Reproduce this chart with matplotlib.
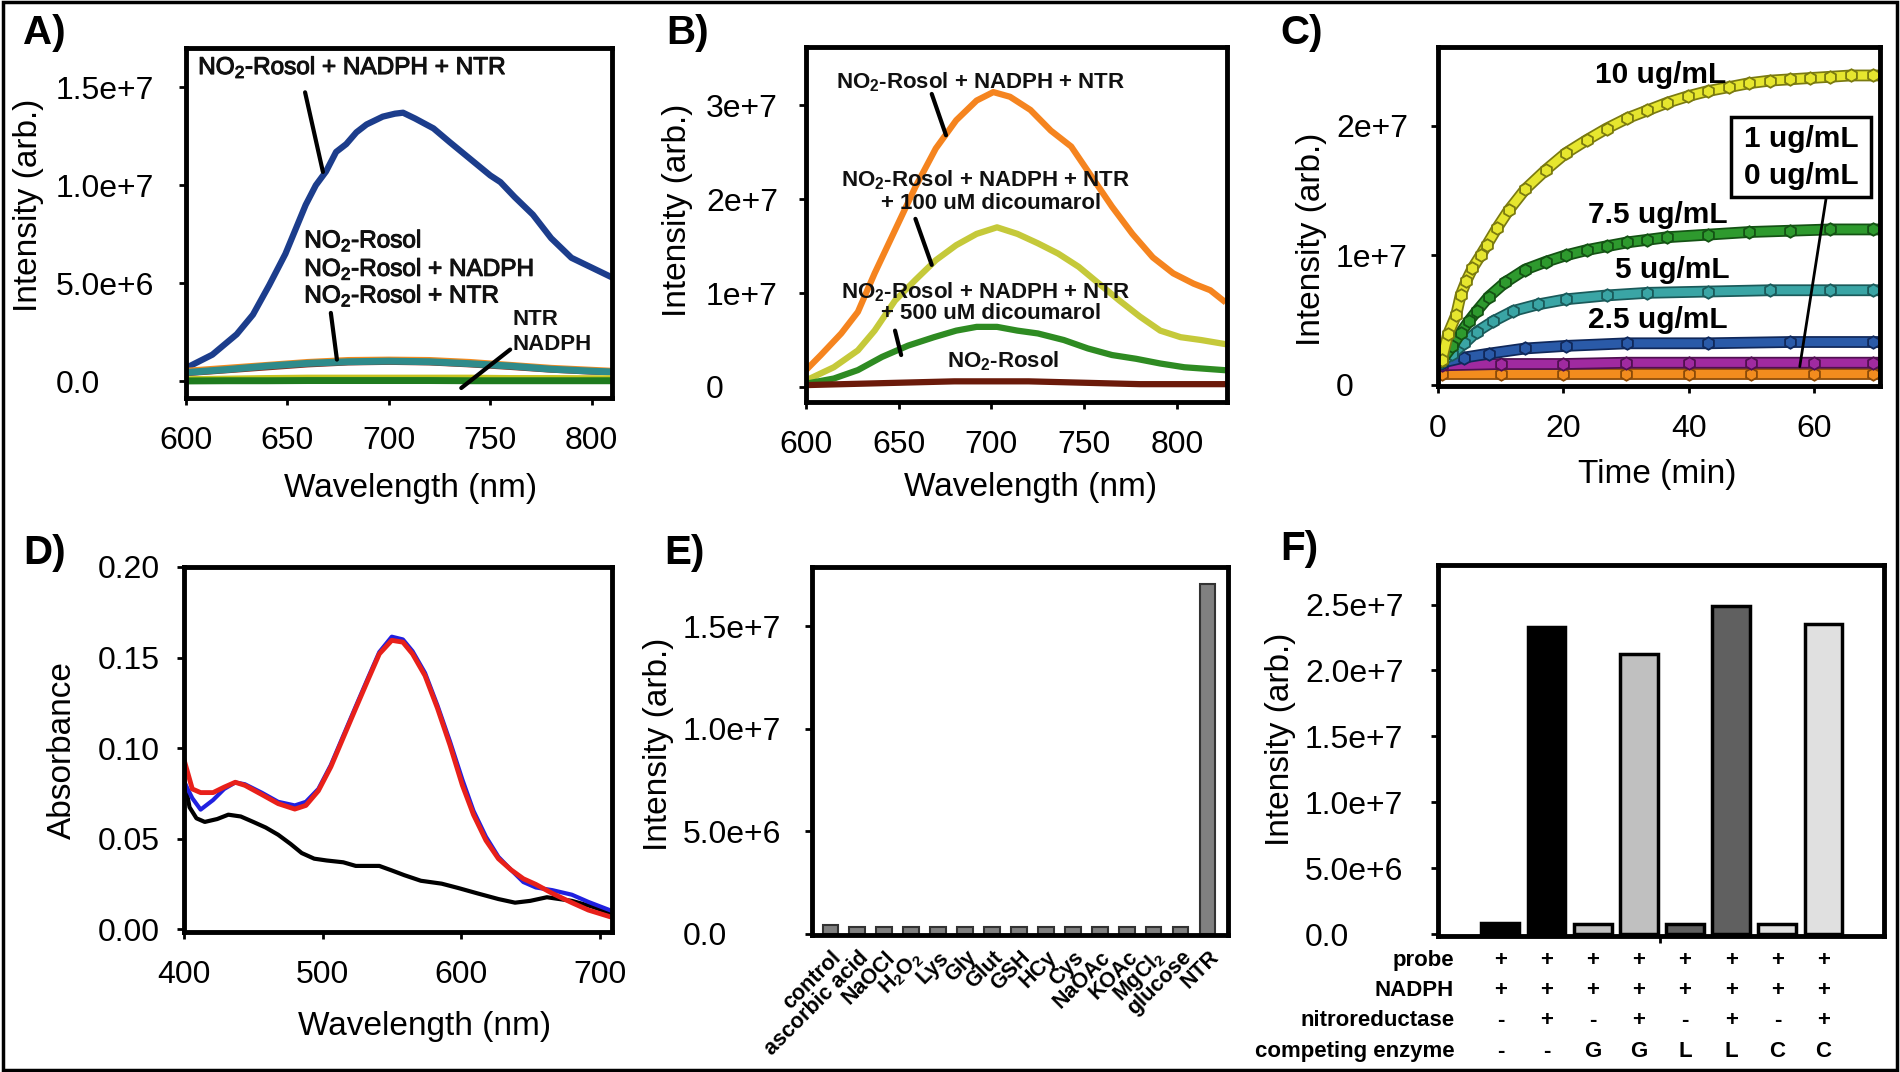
import matplotlib.pyplot as plt
import matplotlib.patheffects as pe
import matplotlib.transforms as mtransforms
from matplotlib.patches import Rectangle
import numpy as np

plt.rcParams['font.family'] = ['Liberation Sans', 'DejaVu Sans']
plt.rcParams['mathtext.fontset'] = 'custom'
plt.rcParams['mathtext.rm'] = 'Liberation Sans'
plt.rcParams['mathtext.it'] = 'Liberation Sans:italic'
plt.rcParams['mathtext.bf'] = 'Liberation Sans:bold'
plt.rcParams['mathtext.default'] = 'regular'

# ---- A) emission spectra (intensity in 1e6)
a_wl = [600, 613, 625, 633, 641, 649, 659, 664, 669, 674, 679, 684, 689, 697, 703,
        707, 713, 722, 730, 740, 750, 755, 762, 771, 780, 790, 800, 810]
a_full = [0.68, 1.36, 2.4, 3.4, 4.9, 6.5, 9.0, 10.0, 10.7, 11.7, 12.1, 12.7, 13.1, 13.5, 13.65,
          13.7, 13.4, 12.9, 12.2, 11.35, 10.5, 10.16, 9.4, 8.5, 7.3, 6.3, 5.8, 5.3]
a_wl2 = [600, 620, 640, 660, 680, 700, 720, 740, 760, 780, 800, 810]
a_probe = [0.55, 0.70, 0.85, 1.00, 1.10, 1.12, 1.10, 1.00, 0.85, 0.70, 0.60, 0.55]
a_probe_nadph = [0.45, 0.60, 0.78, 0.92, 1.00, 1.03, 1.00, 0.90, 0.78, 0.62, 0.52, 0.48]
a_probe_ntr = [0.40, 0.55, 0.70, 0.85, 0.95, 0.98, 0.95, 0.85, 0.72, 0.58, 0.48, 0.45]
a_ntr = [0.12, 0.15, 0.18, 0.20, 0.20, 0.20, 0.20, 0.20, 0.18, 0.18, 0.17, 0.17]
a_nadph = [0.02, 0.03, 0.03, 0.04, 0.04, 0.04, 0.04, 0.03, 0.03, 0.03, 0.03, 0.03]

# ---- B) dicoumarol inhibition (intensity in 1e7)
b_wl = [600, 608, 619, 628, 637, 648, 659, 670, 681, 692, 701, 710,
        721, 732, 743, 754, 765, 776, 787, 798, 809, 818, 825]
b_full = [0.18, 0.34, 0.57, 0.80, 1.21, 1.67, 2.13, 2.54, 2.84, 3.05, 3.14, 3.09,
          2.95, 2.73, 2.56, 2.24, 1.92, 1.63, 1.38, 1.21, 1.10, 1.03, 0.92]
b_wl100 = [600, 615, 628, 637, 648, 659, 670, 681, 692, 703, 714,
           725, 736, 747, 758, 769, 780, 791, 802, 813, 825]
b_dic100 = [0.07, 0.21, 0.39, 0.60, 0.92, 1.14, 1.35, 1.51, 1.63, 1.70, 1.63,
            1.53, 1.42, 1.28, 1.10, 0.92, 0.75, 0.60, 0.53, 0.50, 0.46]
b_wl500 = [600, 615, 628, 641, 655, 669, 681, 692, 703, 714, 725,
           739, 752, 765, 778, 791, 804, 825]
b_dic500 = [0.035, 0.09, 0.18, 0.32, 0.44, 0.53, 0.60, 0.64, 0.64, 0.60, 0.57,
            0.50, 0.41, 0.34, 0.30, 0.25, 0.21, 0.18]
b_wl2 = [600, 620, 640, 660, 680, 700, 720, 740, 760, 780, 800, 825]
b_probe = [0.02, 0.03, 0.04, 0.05, 0.06, 0.06, 0.06, 0.05, 0.04, 0.03, 0.03, 0.03]

# ---- C) kinetics vs NTR concentration (intensity in 1e7)
c_t10 = [0.6, 1.6, 2.9, 3.6, 4.5, 5.5, 6.8, 7.8, 9.4, 11.3, 13.9, 17.2, 20.4, 23.7,
         26.9, 30.2, 33.4, 36.6, 39.9, 43.1, 46.4, 49.6, 52.9, 56.1, 59.3, 62.6, 65.8, 69.4]
c_i10 = [0.19, 0.39, 0.54, 0.69, 0.80, 0.90, 1.00, 1.08, 1.21, 1.35, 1.51, 1.66, 1.79, 1.89,
         1.98, 2.06, 2.12, 2.18, 2.23, 2.27, 2.30, 2.33, 2.35, 2.36, 2.37, 2.38, 2.39, 2.39]
c_t75 = [0.6, 2.3, 3.6, 4.9, 6.2, 8.1, 10.7, 13.9, 17.2, 20.4, 23.7, 26.9, 30.2,
         33.4, 36.6, 43.1, 49.6, 56.1, 62.6, 69.4]
c_i75 = [0.19, 0.30, 0.40, 0.49, 0.57, 0.68, 0.79, 0.89, 0.95, 1.00, 1.04, 1.07, 1.10,
         1.12, 1.14, 1.16, 1.18, 1.19, 1.20, 1.20]
c_t5 = [0.6, 2.3, 4.2, 6.2, 8.8, 12.0, 15.9, 20.4, 26.9, 33.4, 43.1, 52.9, 62.6, 69.4]
c_i5 = [0.18, 0.24, 0.32, 0.41, 0.49, 0.57, 0.62, 0.66, 0.69, 0.71, 0.72, 0.73, 0.73, 0.73]
c_t25 = [0.6, 4.2, 8.1, 13.9, 20.4, 30.2, 43.1, 56.1, 69.4]
c_i25 = [0.17, 0.21, 0.24, 0.28, 0.30, 0.32, 0.32, 0.33, 0.33]
c_t1 = [0.6, 10, 20, 30, 40, 50, 60, 69.4]
c_i1 = [0.15, 0.16, 0.16, 0.17, 0.17, 0.17, 0.17, 0.17]
c_t0 = [0.6, 10, 20, 30, 40, 50, 60, 69.4]
c_i0 = [0.085, 0.085, 0.085, 0.085, 0.085, 0.085, 0.085, 0.085]

# ---- D) absorbance
d_wl = [400, 406, 412, 421, 429, 437, 444, 456, 468, 480, 488, 497, 506, 515, 524,
        533, 541, 550, 558, 565, 574, 583, 592, 601, 609, 618, 627, 636, 645, 654,
        666, 680, 692, 709]
d_red = [0.0936, 0.0774, 0.0754, 0.0754, 0.0784, 0.0811, 0.0794, 0.0744, 0.0693, 0.0663,
         0.0683, 0.0764, 0.0896, 0.1058, 0.122, 0.138, 0.152, 0.1595, 0.1585, 0.152,
         0.140, 0.122, 0.1017, 0.0794, 0.0632, 0.049, 0.0389, 0.0328, 0.0278, 0.0247,
         0.0197, 0.0146, 0.0105, 0.0065]
d_blue = [0.0815, 0.0723, 0.066, 0.0713, 0.0774, 0.081, 0.080, 0.0754, 0.0703, 0.0683,
          0.0703, 0.0774, 0.0906, 0.1068, 0.123, 0.139, 0.153, 0.1615, 0.1600, 0.1535,
          0.1415, 0.1235, 0.1037, 0.0825, 0.0653, 0.051, 0.0399, 0.0328, 0.0260, 0.0230,
          0.0215, 0.0190, 0.0150, 0.0100]
d_wlk = [400, 404, 409, 415, 424, 432, 441, 450, 459, 468, 477, 485, 494, 503, 515,
         524, 533, 541, 550, 559, 571, 586, 598, 612, 627, 639, 650, 662, 680, 694, 709]
d_black = [0.0835, 0.0673, 0.0612, 0.0592, 0.0608, 0.0632, 0.0622, 0.0592, 0.0561, 0.0521,
           0.047, 0.042, 0.0389, 0.0379, 0.0369, 0.0349, 0.0349, 0.0349, 0.0324, 0.0298,
           0.0267, 0.0251, 0.0227, 0.0197, 0.0166, 0.0146, 0.0156, 0.0176, 0.0156, 0.0126,
           0.0085]

# ---- E) selectivity (intensity in 1e6)
e_labels = ['control', 'ascorbic acid', 'NaOCl', 'H$_2$O$_2$', 'Lys', 'Gly', 'Glut', 'GSH',
            'HCy', 'Cys', 'NaOAc', 'KOAc', 'MgCl$_2$', 'glucose', 'NTR']
e_vals = [0.45, 0.34, 0.34, 0.34, 0.34, 0.34, 0.34, 0.34, 0.34, 0.34, 0.34, 0.34,
          0.34, 0.34, 17.08]

# ---- F) competing enzymes (intensity in 1e6)
f_vals = [0.84, 23.3, 0.75, 21.25, 0.75, 24.9, 0.75, 23.5]
f_colors = ['#000000', '#000000', '#c0c0c0', '#c0c0c0', '#606060', '#606060',
            '#e0e0e0', '#e0e0e0']
f_rows = ['probe', 'NADPH', 'nitroreductase', 'competing enzyme']
f_probe = ['+', '+', '+', '+', '+', '+', '+', '+']
f_nadph = ['+', '+', '+', '+', '+', '+', '+', '+']
f_ntr = ['-', '+', '-', '+', '-', '+', '-', '+']
f_enzyme = ['-', '-', 'G', 'G', 'L', 'L', 'C', 'C']

W, H = 1900, 1072
fig = plt.figure(figsize=(19, 10.72), dpi=100)


def place(l, r, t, b):
    return fig.add_axes([l / W, 1 - b / H, (r - l) / W, (b - t) / H])


def style(ax, yticks, ylabels, off_px):
    for s in ax.spines.values():
        s.set_linewidth(3.5)
    ax.set_yticks(yticks, ylabels, ha='left')
    ax.tick_params(axis='both', direction='out', length=5, width=2, labelsize=23)
    ax.tick_params(axis='x', pad=15)
    ax.tick_params(axis='y', pad=off_px * 0.72 - 5)


def labels(ax, xl, xpos, yl, ypos):
    if xl:
        ax.set_xlabel(xl, fontsize=24)
        ax.xaxis.set_label_coords(*xpos)
        ax.xaxis.label.set_va('center')
    ax.set_ylabel(yl, fontsize=24)
    ax.yaxis.set_label_coords(*ypos)
    ax.yaxis.label.set_va('center')


def note_line(ax, p0, p1, lw=3):
    ax.annotate('', xy=p1, xytext=p0,
                arrowprops=dict(arrowstyle='-', lw=lw, color='black',
                                shrinkA=0, shrinkB=0))


thick = [pe.withStroke(linewidth=0.8, foreground='#111111')]
ann_a = dict(fontsize=17.5, color='#111111', path_effects=thick)
ann_b = dict(fontsize=16, fontweight='bold', color='#111111')

# ================= A
ax = place(186, 612, 48, 398)
ax.plot(a_wl, np.array(a_full) * 1e6, color='#1c3d8c', lw=4.5)
ax.plot(a_wl2, np.array(a_probe) * 1e6, color='#f28a1e', lw=4)
ax.plot(a_wl2, np.array(a_probe_ntr) * 1e6, color='#8b2a1a', lw=4)
ax.plot(a_wl2, np.array(a_probe_nadph) * 1e6, color='#2e8b8b', lw=5)
ax.plot(a_wl2, np.array(a_ntr) * 1e6, color='#c8c420', lw=4)
ax.plot(a_wl2, np.array(a_nadph) * 1e6, color='#1e7b1e', lw=5)
ax.set_xlim(600, 810)
ax.set_ylim(-0.85e6, 1.70e7)
ax.set_xticks([600, 650, 700, 750, 800])
style(ax, [0, 5e6, 1e7, 1.5e7], ['0.0', '5.0e+6', '1.0e+7', '1.5e+7'], 130)
labels(ax, 'Wavelength (nm)', (0.526, -0.258), 'Intensity (arb.)', (-0.369, 0.55))
ax.text(606, 1.60e7, 'NO$_2$-Rosol + NADPH + NTR', ha='left', va='center', **ann_a)
note_line(ax, (658.7, 1.474e7), (667.5, 1.068e7))
for s, yv in zip(['NO$_2$-Rosol', 'NO$_2$-Rosol + NADPH', 'NO$_2$-Rosol + NTR'],
                 [7.16e6, 5.71e6, 4.35e6]):
    ax.text(658.3, yv, s, ha='left', va='center', **ann_a)
note_line(ax, (671.4, 3.49e6), (674.4, 1.11e6))
for s, yv in zip(['NTR', 'NADPH'], [3.15e6, 1.87e6]):
    ax.text(760.8, yv, s, ha='left', va='center', **ann_b)
note_line(ax, (759.8, 1.62e6), (735.7, -0.34e6))

# ================= B
ax = place(806, 1227, 47, 402)
ax.plot(b_wl, np.array(b_full) * 1e7, color='#f5841f', lw=4.5)
ax.plot(b_wl100, np.array(b_dic100) * 1e7, color='#c5c93a', lw=4.5)
ax.plot(b_wl500, np.array(b_dic500) * 1e7, color='#2e8b22', lw=4.5)
ax.plot(b_wl2, np.array(b_probe) * 1e7, color='#6b1a0a', lw=4.5)
ax.set_xlim(600, 827)
ax.set_ylim(-1.6e6, 3.62e7)
ax.set_xticks([600, 650, 700, 750, 800])
style(ax, [0, 1e7, 2e7, 3e7], ['0', '1e+7', '2e+7', '3e+7'], 100)
labels(ax, 'Wavelength (nm)', (0.534, -0.242), 'Intensity (arb.)', (-0.306, 0.541))
ax.text(616, 3.25e7, 'NO$_2$-Rosol + NADPH + NTR', ha='left', va='center', **ann_b)
note_line(ax, (667.8, 3.12e7), (675.5, 2.68e7))
ax.text(697, 2.2e7, 'NO$_2$-Rosol + NADPH + NTR', ha='center', va='center', **ann_b)
ax.text(700, 1.95e7, '+ 100 uM dicoumarol', ha='center', va='center', **ann_b)
note_line(ax, (659, 1.79e7), (667.8, 1.30e7))
ax.text(697, 1.01e7, 'NO$_2$-Rosol + NADPH + NTR', ha='center', va='center', **ann_b)
ax.text(700, 0.78e7, '+ 500 uM dicoumarol', ha='center', va='center', **ann_b)
note_line(ax, (648, 0.60e7), (651.3, 0.34e7))
ax.text(676, 0.27e7, 'NO$_2$-Rosol', ha='left', va='center', **ann_b)

# ================= C
ax = place(1438, 1880, 47, 386)
series = [(c_t0, c_i0, '#f28c1e', '#8a4a08'),
          (c_t1, c_i1, '#a02aa0', '#501050'),
          (c_t25, c_i25, '#2a5aa8', '#10285a'),
          (c_t5, c_i5, '#3aa5a5', '#1a5a5a'),
          (c_t75, c_i75, '#2e9a2e', '#145214'),
          (c_t10, c_i10, '#e6e62e', '#7a7a10')]
for t, v, fc, ec in series:
    v = np.array(v) * 1e7
    ax.plot(t, v, '-', color=fc, lw=6,
            path_effects=[pe.Stroke(linewidth=8.5, foreground=ec), pe.Normal()])
    ax.plot(t, v, 'h', ms=9, mfc=fc, mec=ec, mew=1.3)
ax.set_xlim(0, 70.5)
ax.set_ylim(-1e5, 2.61e7)
ax.set_xticks([0, 20, 40, 60])
style(ax, [0, 1e7, 2e7], ['0', '1e+7', '2e+7'], 102)
labels(ax, 'Time (min)', (0.495, -0.262), 'Intensity (arb.)', (-0.287, 0.432))
cann = dict(fontsize=21.5, fontweight='bold')
ax.text(35.5, 2.39e7, '10 ug/mL', ha='center', va='center', **cann)
ax.text(35.0, 1.31e7, '7.5 ug/mL', ha='center', va='center', **cann)
ax.text(37.3, 0.89e7, '5 ug/mL', ha='center', va='center', **cann)
ax.text(35.0, 0.50e7, '2.5 ug/mL', ha='center', va='center', **cann)
ax.add_patch(Rectangle((46.7, 1.45e7), 22.4, 0.62e7, fc='white', ec='black',
                       lw=2.5, zorder=5))
ax.text(58, 1.90e7, '1 ug/mL', ha='center', va='center', zorder=6, **cann)
ax.text(58, 1.61e7, '0 ug/mL', ha='center', va='center', zorder=6, **cann)
note_line(ax, (61.9, 1.44e7), (57.7, 0.14e7), lw=2)

# ================= D
ax = place(184, 612, 567, 932)
ax.plot(d_wlk, d_black, color='black', lw=3)
ax.plot(d_wl, d_blue, color='#2020e0', lw=3)
ax.plot(d_wl, d_red, color='#e8201a', lw=3.5)
ax.set_xlim(400, 709)
ax.set_ylim(-0.0016, 0.20)
ax.set_xticks([400, 500, 600, 700])
style(ax, [0, 0.05, 0.10, 0.15, 0.20], ['0.00', '0.05', '0.10', '0.15', '0.20'], 86)
labels(ax, 'Wavelength (nm)', (0.561, -0.26), 'Absorbance', (-0.283, 0.499))

# ================= E
ax = place(812, 1228, 567, 935)
ex = np.arange(len(e_vals))
ax.bar(ex, np.array(e_vals) * 1e6, width=0.58, color='#808080', edgecolor='#333333', lw=1.5)
ax.set_xlim(-0.68, 14.76)
ax.set_ylim(-0.05e6, 1.79e7)
style(ax, [0, 5e6, 1e7, 1.5e7], ['0.0', '5.0e+6', '1.0e+7', '1.5e+7'], 129)
ax.set_xticks(ex, e_labels, rotation=45, ha='right', va='center',
              rotation_mode='anchor', fontsize=15.5, fontweight='bold')
ax.tick_params(axis='x', length=0, pad=14)
shift = mtransforms.ScaledTranslation(0.08, 0, fig.dpi_scale_trans)
for lab in ax.get_xticklabels():
    lab.set_transform(lab.get_transform() + shift)
labels(ax, None, None, 'Intensity (arb.)', (-0.369, 0.519))

# ================= F
ax = place(1438, 1884, 565, 936)
fx = np.arange(len(f_vals))
ax.bar(fx, np.array(f_vals) * 1e6, width=0.82, color=f_colors, edgecolor='black', lw=2.5)
ax.set_xlim(-1.35, 8.31)
ax.set_ylim(-0.15e6, 2.80e7)
ax.set_xticks([3.46], [''])
style(ax, [0, 5e6, 1e7, 1.5e7, 2e7, 2.5e7],
      ['0.0', '5.0e+6', '1.0e+7', '1.5e+7', '2.0e+7', '2.5e+7'], 133)
labels(ax, None, None, 'Intensity (arb.)', (-0.354, 0.53))
trans = mtransforms.blended_transform_factory(ax.transData, ax.transAxes)
tann = dict(fontsize=16, fontweight='bold', va='center', transform=trans, clip_on=False)
for row, vals, yf in zip(f_rows, [f_probe, f_nadph, f_ntr, f_enzyme],
                         [-0.065, -0.147, -0.228, -0.31]):
    ax.text(-1.0, yf, row, ha='right', **tann)
    for xi, s in zip(fx, vals):
        ax.text(xi, yf, s, ha='center', **tann)

# panel letters
for s, (px, py) in zip(['A)', 'B)', 'C)', 'D)', 'E)', 'F)'],
                       [(44, 33), (688, 33), (1302, 33), (45, 553), (684, 553), (1299, 549)]):
    fig.text(px / W, 1 - py / H, s, fontsize=29, fontweight='bold', ha='center', va='center')

# outer frame
fig.add_artist(Rectangle((0.0015, 0.002), 0.997, 0.996, transform=fig.transFigure,
                         fill=False, lw=2.5, ec='black'))

fig.savefig('out.png', dpi=100)
